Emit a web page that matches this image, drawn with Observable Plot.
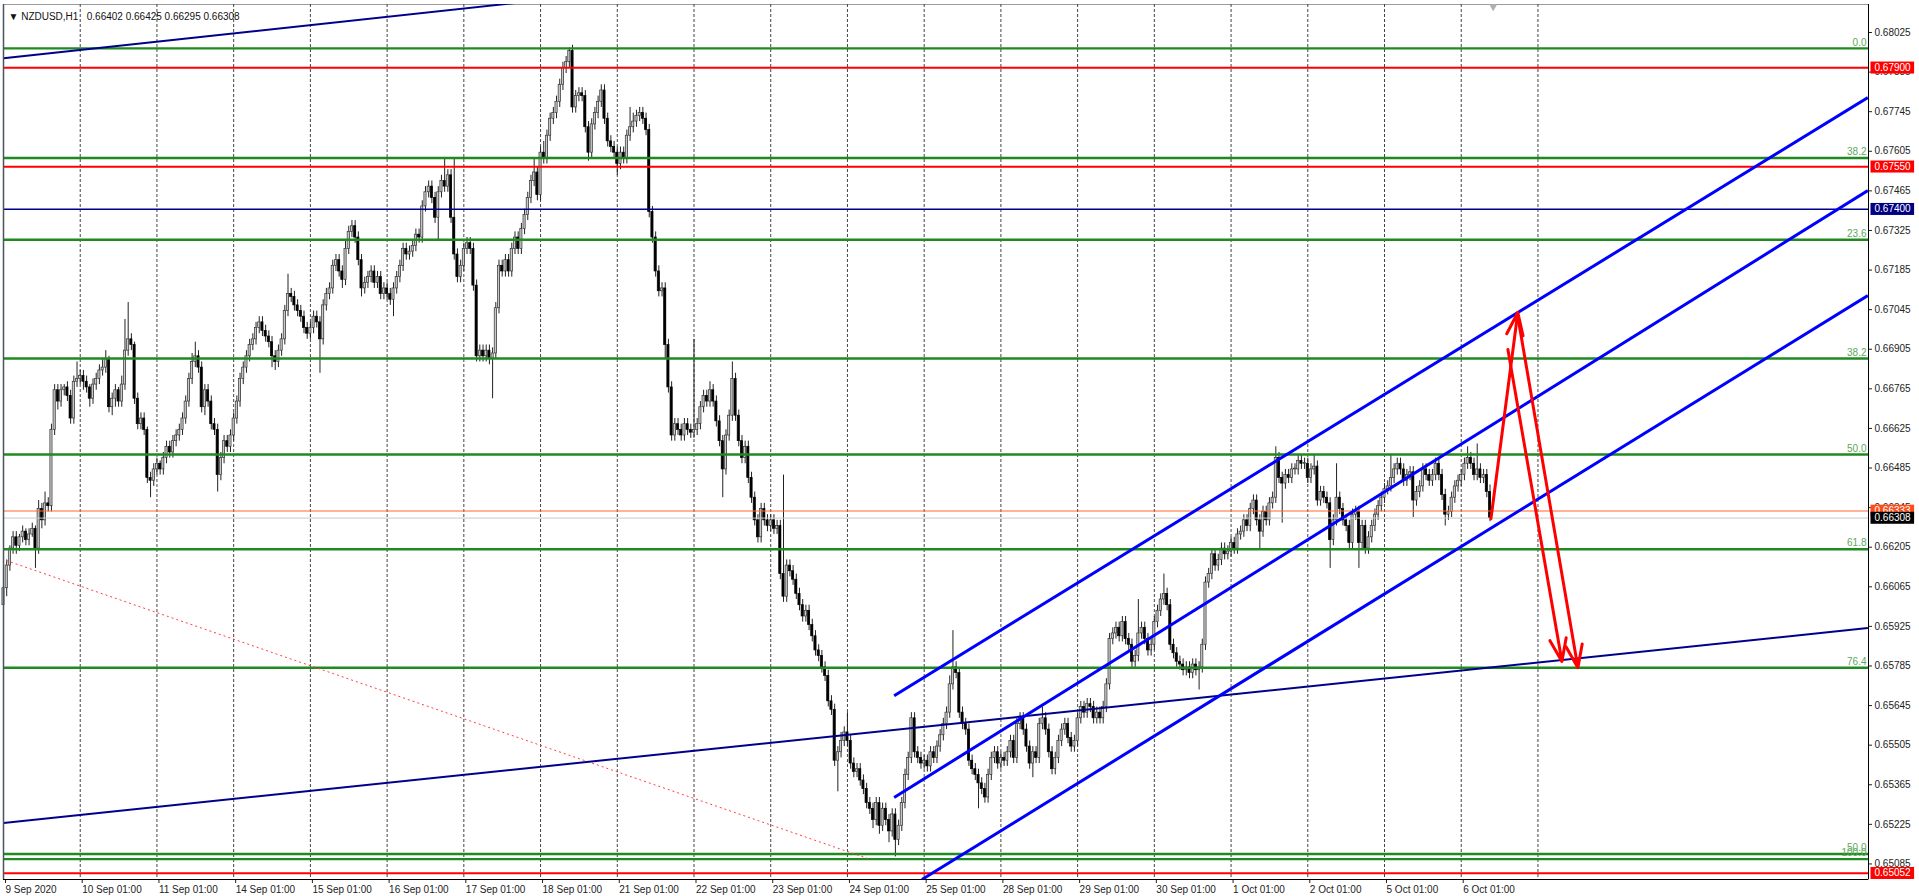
<!DOCTYPE html>
<html><head><meta charset="utf-8">
<script src="https://cdn.jsdelivr.net/npm/d3@7"></script>
<script src="https://cdn.jsdelivr.net/npm/@observablehq/plot@0.6"></script>
<style>html,body{margin:0;padding:0;background:#fff;overflow:hidden}svg{display:block}</style>
</head><body><div id="chart"></div>
<script>
// ---------- DATA ----------
const symbolTitle = "\u25BC NZDUSD,H1\u00a0\u00a0 0.66402 0.66425 0.66295 0.66308";
const firstOpen = 6600; // pips (x 1e-4)
// hourly closes in pips, one row per trading day
const closes = [
 6606,6614,6620,6624,6621,6624,6626,6623,6625,6627,6620,6634,6630,6636,6635,6662,6676,6672,6676,6677,6674,6666,6679,6680,
 6681,6679,6677,6673,6678,6680,6683,6684,6687,6670,6673,6676,6672,6678,6690,6694,6692,6673,6664,6666,6662,6645,6644,6648,
 6650,6648,6652,6656,6654,6658,6660,6662,6666,6672,6680,6686,6688,6684,6670,6676,6672,6664,6662,6646,6652,6658,6656,6660,
 6666,6672,6680,6684,6688,6692,6694,6698,6700,6697,6695,6693,6688,6686,6690,6694,6704,6710,6709,6706,6704,6702,6698,6696,
 6698,6702,6700,6694,6706,6710,6712,6720,6722,6718,6715,6726,6732,6734,6730,6722,6712,6714,6716,6718,6714,6716,6710,6712,
 6710,6708,6712,6716,6720,6726,6724,6725,6727,6731,6730,6741,6746,6748,6744,6737,6746,6750,6748,6752,6737,6724,6716,6720,
 6726,6728,6726,6713,6688,6690,6688,6690,6687,6689,6705,6720,6718,6722,6718,6726,6730,6726,6733,6738,6744,6750,6753,6745,
 6760,6758,6766,6772,6774,6778,6784,6790,6792,6796,6776,6780,6781,6780,6769,6760,6770,6774,6778,6782,6772,6764,6762,6760,
 6756,6760,6758,6766,6769,6771,6773,6774,6772,6768,6739,6730,6718,6711,6712,6692,6677,6660,6664,6662,6660,6664,6662,6661,
 6662,6664,6670,6674,6672,6676,6672,6665,6658,6648,6660,6667,6680,6667,6658,6652,6656,6645,6638,6630,6624,6634,6630,6628,
 6630,6627,6628,6611,6603,6614,6612,6609,6604,6600,6596,6598,6593,6589,6584,6582,6578,6575,6566,6563,6545,6548,6552,6555,
 6552,6544,6541,6542,6538,6535,6530,6528,6524,6530,6522,6528,6524,6520,6526,6517,6522,6530,6540,6546,6560,6548,6546,6544,
 6545,6543,6548,6546,6550,6554,6558,6562,6572,6578,6576,6562,6558,6556,6545,6542,6540,6537,6535,6532,6540,6546,6548,6544,
 6546,6545,6548,6552,6546,6558,6560,6556,6550,6544,6548,6546,6558,6560,6556,6548,6542,6546,6552,6556,6558,6553,6550,6552,
 6560,6564,6562,6565,6564,6560,6562,6560,6564,6572,6588,6590,6592,6589,6594,6588,6586,6580,6582,6590,6592,6588,6584,6586,
 6594,6598,6602,6604,6600,6586,6583,6580,6579,6577,6578,6576,6579,6577,6578,6586,6608,6611,6618,6614,6616,6620,6618,6619,
 6622,6620,6625,6626,6630,6628,6634,6637,6630,6626,6633,6630,6636,6638,6652,6645,6643,6646,6645,6648,6648,6651,6650,6650,
 6645,6648,6649,6637,6640,6638,6636,6623,6630,6638,6634,6630,6628,6622,6632,6633,6622,6628,6620,6624,6628,6632,6635,6638,
 6641,6642,6645,6648,6650,6648,6644,6646,6647,6637,6640,6642,6648,6646,6644,6646,6650,6646,6639,6632,6633,6638,6642,6644,
 6646,6650,6652,6650,6646,6648,6645,6646,6640,6630.8
];
// upper wick (pips above body)
const wickUp = [
 2,2,1,2,2,1,2,1,2,2,1,3,2,4,2,2,2,2,2,1,2,2,2,6,
 2,2,2,1,2,2,2,3,3,1,2,2,1,3,11,13,2,1,2,2,2,1,2,2,
 2,1,2,2,2,2,2,2,2,2,2,3,5,2,2,2,2,2,2,2,2,2,2,2,
 2,2,2,2,2,2,2,2,2,2,2,2,2,2,2,2,2,7,2,2,2,2,2,2,
 2,2,2,2,2,2,2,2,2,2,2,3,2,2,2,2,2,2,2,2,2,2,2,2,
 2,2,2,2,2,2,2,2,2,2,2,2,2,2,2,2,2,2,8,2,2,21,2,2,
 2,2,2,2,2,2,2,2,2,2,2,2,2,2,2,2,2,2,2,2,2,2,5,2,
 2,4,2,2,2,2,2,2,2,1,2,2,2,2,2,2,2,2,2,2,2,2,2,2,
 2,2,2,2,7,3,2,2,2,2,2,2,2,2,2,2,2,2,2,2,2,2,2,2,
 32,2,2,2,2,3,2,2,2,2,2,2,6,2,2,2,2,2,2,2,2,2,2,2,
 2,2,2,2,35,2,2,2,2,2,2,2,2,2,2,2,2,2,2,2,2,2,3,2,
 7,2,2,2,2,2,2,2,2,2,2,2,2,2,2,2,2,2,2,2,2,2,2,2,
 2,2,2,2,2,2,2,2,3,13,2,2,2,2,2,2,2,2,2,2,2,2,2,2,
 2,2,2,2,2,2,2,2,2,2,2,2,2,4,2,2,2,2,2,2,2,2,2,2,
 2,2,2,2,2,2,2,2,2,2,2,2,2,2,2,2,2,2,2,12,2,2,2,2,
 2,2,2,7,2,2,2,2,2,2,2,2,2,2,2,2,2,2,2,2,2,2,2,2,
 2,2,2,2,2,2,2,2,2,2,2,2,2,2,4,2,2,2,2,2,2,2,2,2,
 2,2,4,2,2,2,2,2,2,12,2,2,2,2,2,2,2,2,2,2,2,2,2,2,
 2,2,8,2,2,2,2,2,2,2,2,2,2,2,2,2,2,2,2,2,2,2,2,2,
 2,2,4,2,2,9,2,2,2,2.5
];
// lower wick (pips below body)
const wickDown = [
 6,3,2,2,3,2,2,2,2,1,7,2,3,2,2,2,2,3,2,2,2,2,2,2,
 2,3,2,3,2,2,2,2,2,2,3,3,2,2,2,2,2,2,2,2,2,2,6,2,
 2,2,2,2,2,2,2,2,2,2,2,2,2,2,2,3,2,2,2,6,2,2,2,2,
 2,2,2,2,2,2,2,2,2,2,2,2,4,3,2,2,2,2,2,2,2,2,2,2,
 2,2,2,12,2,2,2,2,2,2,3,2,2,2,2,2,3,2,2,2,2,2,2,2,
 2,2,6,2,2,2,2,2,2,2,2,2,2,2,2,2,8,2,2,2,2,2,2,2,
 2,2,2,2,2,2,2,2,2,14,2,2,2,2,2,2,2,2,2,2,2,2,2,2,
 2,2,2,2,2,2,2,2,2,2,2,2,2,2,2,3,2,2,2,2,2,2,2,2,
 4,2,2,2,2,2,2,2,2,2,2,2,2,2,2,5,2,2,2,2,2,2,2,2,
 2,2,2,2,2,2,2,2,2,10,2,2,2,2,2,2,2,2,2,2,2,2,2,2,
 2,2,2,2,2,2,2,2,2,2,2,2,2,2,2,2,2,2,2,2,2,11,2,2,
 2,2,2,2,2,2,2,2,3,2,3,2,2,4,2,6,2,2,2,2,2,2,2,2,
 2,2,2,2,2,2,2,2,2,2,2,2,2,2,2,2,2,9,2,2,2,2,2,2,
 2,2,2,2,2,2,2,2,2,2,5,2,2,2,2,2,2,2,2,2,2,2,2,2,
 2,2,2,2,2,2,2,2,2,2,2,2,2,2,2,2,2,2,2,2,2,2,2,2,
 2,2,2,2,2,2,2,2,2,2,2,2,2,2,7,2,2,2,2,2,2,2,2,2,
 2,2,2,2,2,2,2,2,2,6,2,2,2,2,2,2,14,2,2,2,2,2,2,2,
 2,2,2,2,2,2,2,10,2,2,2,2,2,2,2,2,9,2,2,2,2,2,2,2,
 2,2,2,2,2,2,2,2,2,6,2,2,2,2,2,2,2,2,2,4,2,2,2,2,
 2,2,2,2,2,2,2,2,2,1.3
];
// day separators (bar index) and their labels
const dayTicks = [0,24,48,72,96,120,144,168,192,216,240,264,288,312,336,360,384,408,432,456];
const dayLabels = ["9 Sep 2020","10 Sep 01:00","11 Sep 01:00","14 Sep 01:00","15 Sep 01:00","16 Sep 01:00",
 "17 Sep 01:00","18 Sep 01:00","21 Sep 01:00","22 Sep 01:00","23 Sep 01:00","24 Sep 01:00","25 Sep 01:00",
 "28 Sep 01:00","29 Sep 01:00","30 Sep 01:00","1 Oct 01:00","2 Oct 01:00","5 Oct 01:00","6 Oct 01:00"];
const gridTicks = [24,48,72,96,120,144,168,192,216,240,264,288,312,336,360,384,408,432,456,480];
const priceTicks = [0.68025,0.67885,0.67745,0.67605,0.67465,0.67325,0.67185,0.67045,0.66905,0.66765,0.66625,
 0.66485,0.66345,0.66205,0.66065,0.65925,0.65785,0.65645,0.65505,0.65365,0.65225,0.65085];
// Fibonacci levels and labels
const fibLevels = [0.67969,0.67581,0.67292,0.66872,0.66533,0.66198,0.65779,0.65120,0.65102];
const fibLabels = ["0.0","38.2","23.6","38.2","50.0","61.8","76.4","50.0","100.0"];
const redLevels = [0.67900,0.67550,0.65052];
const navyLevels = [0.67400];
const markLevel = 0.66333;
const bidLevel = 0.66308;
// trend lines: bar index / price anchors
const navyTrends = [
 {i1:0, p1:0.67934, i2:200, p2:0.68178},
 {i1:0, p1:0.65230, i2:583.2, p2:0.65919}
];
const channel = [
 {i1:278.6, p1:0.65680, i2:583.2, p2:0.67795},
 {i1:278.6, p1:0.65320, i2:583.2, p2:0.67466},
 {i1:287.3, p1:0.65030, i2:583.2, p2:0.67095}
];
const dottedLine = [{i1:0.84, p1:0.66158, i2:270.4, p2:0.65104}];
const arrows = [
 {i1:465.3, p1:0.66306, i2:473.7, p2:0.67035},
 {i1:470.6, p1:0.66904, i2:487.5, p2:0.65801},
 {i1:473.7, p1:0.67021, i2:492.5, p2:0.65779}
];

// ---------- BUILD ----------
const bars = closes.map((c, i) => {
  const o = (i === 0 ? firstOpen : closes[i - 1]) / 1e4;
  const cl = c / 1e4;
  return {i, open: o, close: cl,
    high: Math.max(o, cl) + wickUp[i] / 1e4,
    low: Math.min(o, cl) - wickDown[i] / 1e4};
});
const xDomain = [0, 583.4];
const yDomain = [0.65030, 0.68124];
const font = "'Liberation Sans', Arial, sans-serif";

const tagMark = (v, desc) => Plot.text([v], {y: d => d, text: d => d.toFixed(5), frameAnchor: "right",
  textAnchor: "start", dx: 6, fill: "#fff", fontSize: 10, ariaDescription: desc});

const chart = Plot.plot({
  width: 1919, height: 896,
  marginLeft: 3, marginRight: 51, marginTop: 4, marginBottom: 17,
  x: {type: "linear", domain: xDomain, axis: null},
  y: {type: "linear", domain: yDomain, axis: null},
  style: {fontFamily: font, fontSize: "10px", background: "#fff", overflow: "visible"},
  marks: [
    Plot.frame({stroke: "#9a9a9a"}),
    Plot.ruleX(gridTicks, {stroke: "#444", strokeDasharray: "3,2", strokeWidth: 1}),
    Plot.ruleX(bars, {x: "i", y1: "low", y2: "high", stroke: "#222", strokeWidth: 1}),
    Plot.rect(bars, {x1: d => d.i - 0.34, x2: d => d.i + 0.34,
      y1: "open", y2: d => Math.abs(d.close - d.open) < 0.00003 ? d.open + 0.00003 : d.close,
      fill: d => d.close >= d.open ? "#c8c8c8" : "#000", stroke: d => d.close >= d.open ? "#333" : "#000", strokeWidth: 0.7}),
    Plot.ruleY([bidLevel], {stroke: "#c8c8c8", strokeWidth: 1}),
    Plot.ruleY([markLevel], {stroke: "#ff6633", strokeWidth: 1}),
    Plot.ruleY(fibLevels, {stroke: "#1f8a1f", strokeWidth: 2.4}),
    Plot.ruleY(redLevels, {stroke: "#ff0000", strokeWidth: 2}),
    Plot.ruleY(navyLevels, {stroke: "#00008b", strokeWidth: 1.5}),
    Plot.link(dottedLine, {x1: "i1", y1: "p1", x2: "i2", y2: "p2", stroke: "#ff4040", strokeWidth: 1, strokeDasharray: "2,3", clip: true}),
    Plot.link(navyTrends, {x1: "i1", y1: "p1", x2: "i2", y2: "p2", stroke: "#00008b", strokeWidth: 2, clip: true}),
    Plot.link(channel, {x1: "i1", y1: "p1", x2: "i2", y2: "p2", stroke: "#0000ff", strokeWidth: 3, clip: true}),
    Plot.arrow(arrows, {x1: "i1", y1: "p1", x2: "i2", y2: "p2", stroke: "#ff0000", strokeWidth: 3, headLength: 12, headAngle: 40}),
    Plot.text(fibLevels, {y: d => d, text: (d, i) => fibLabels[i], frameAnchor: "right", textAnchor: "end",
      dx: -2, dy: -6, fill: "#5ea85e", fontSize: 10}),
    Plot.axisY({anchor: "right", ticks: priceTicks, tickFormat: d => d.toFixed(5), tickSize: 3, tickPadding: 3,
      fontSize: 10, fill: "#222", stroke: "#222"}),
    Plot.axisX({anchor: "bottom", ticks: dayTicks, tickFormat: d => dayLabels[dayTicks.indexOf(d)],
      textAnchor: "start", dx: 2, tickSize: 4, tickPadding: 2, fontSize: 10, fill: "#222", stroke: "#222"}),
    Plot.ruleX([xDomain[1]], {stroke: "#000", strokeWidth: 1}),
    Plot.ruleY([yDomain[0]], {stroke: "#000", strokeWidth: 1}),
    Plot.ruleX([xDomain[0]], {stroke: "#4a5560", strokeWidth: 1.5}),
    tagMark(redLevels[0], "tag-red"),
    tagMark(redLevels[1], "tag-red"),
    tagMark(navyLevels[0], "tag-navy"),
    tagMark(markLevel, "tag-orange"),
    tagMark(bidLevel, "tag-black"),
    tagMark(redLevels[2], "tag-red"),
    Plot.text([symbolTitle], {frameAnchor: "top-left", dx: 5, dy: 8, textAnchor: "start", fontSize: 10, fill: "#111"}),
    Plot.dot([bars.length], {x: d => d, frameAnchor: "top", symbol: "triangle", rotate: 180, r: 3, dy: 2, fill: "#b0b0b0", stroke: "none"})
  ]
});
document.getElementById("chart").appendChild(chart);

// colored backgrounds for the price tags on the right scale
const tagBg = {"tag-red": "#ff0000", "tag-navy": "#000080", "tag-orange": "#ff4d1a", "tag-black": "#000"};
chart.querySelectorAll("g[aria-description]").forEach(g => {
  const bg = tagBg[g.getAttribute("aria-description")];
  if (!bg) return;
  g.querySelectorAll("text").forEach(t => {
    const b = t.getBBox();
    const r = document.createElementNS("http://www.w3.org/2000/svg", "rect");
    r.setAttribute("x", b.x - 4);
    r.setAttribute("y", b.y - 0.5);
    r.setAttribute("width", b.width + 7);
    r.setAttribute("height", b.height + 1);
    r.setAttribute("fill", bg);
    if (t.getAttribute("transform")) r.setAttribute("transform", t.getAttribute("transform"));
    t.parentNode.insertBefore(r, t);
  });
});
</script>
</body></html>
